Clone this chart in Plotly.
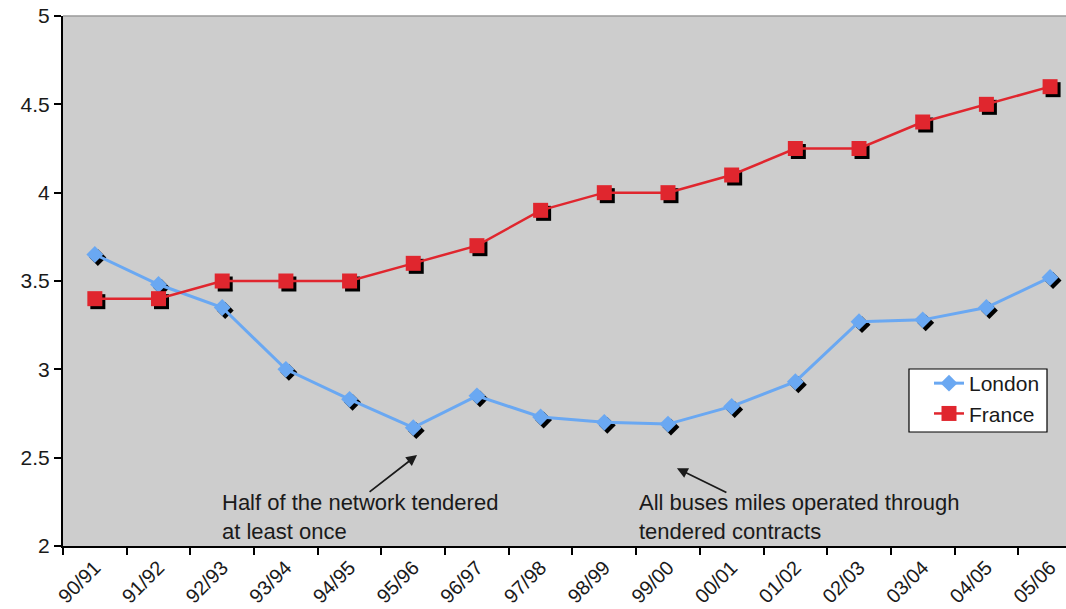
import plotly.graph_objects as go

seasons = ["90/91", "91/92", "92/93", "93/94", "94/95", "95/96", "96/97", "97/98",
           "98/99", "99/00", "00/01", "01/02", "02/03", "03/04", "04/05", "05/06"]
london = [3.65, 3.48, 3.35, 3.00, 2.83, 2.67, 2.85, 2.73, 2.70, 2.69, 2.79, 2.93,
          3.27, 3.28, 3.35, 3.52]
france = [3.40, 3.40, 3.50, 3.50, 3.50, 3.60, 3.70, 3.90, 4.00, 4.00, 4.10, 4.25,
          4.25, 4.40, 4.50, 4.60]

BLUE = "#6AA8F2"
RED = "#E0262E"
FONT = "Liberation Sans, Arial, sans-serif"

# plot area geometry (px)
L, T, B = 63, 16, 63
W, H = 1066 - L, 609 - T - B
x_range = [-0.5, 15.25]
y_range = [2, 5]
dx = 3 * (x_range[1] - x_range[0]) / W   # shadow offset: 3 px right
dy = 3 * (y_range[1] - y_range[0]) / H   # shadow offset: 3 px down

fig = go.Figure()

# drop shadows under the markers (drawn on a shifted hidden axis pair)
for vals, sym, size in [(london, "diamond", 13), (france, "square", 15)]:
    fig.add_trace(go.Scatter(
        x=seasons, y=vals, mode="markers", showlegend=False, hoverinfo="skip",
        marker=dict(symbol=sym, size=size, color="black", line=dict(width=0)),
        xaxis="x", yaxis="y"))

fig.add_trace(go.Scatter(
    x=seasons, y=london, name="London", mode="lines+markers",
    line=dict(color=BLUE, width=3),
    marker=dict(symbol="diamond", size=13, color=BLUE, line=dict(width=0)),
    xaxis="x2", yaxis="y2"))
fig.add_trace(go.Scatter(
    x=seasons, y=france, name="France", mode="lines+markers",
    line=dict(color=RED, width=2.5),
    marker=dict(symbol="square", size=15, color=RED, line=dict(width=0)),
    xaxis="x2", yaxis="y2"))

fig.update_layout(
    width=1066, height=609,
    margin=dict(l=L, r=0, t=T, b=B, pad=0),
    paper_bgcolor="white",
    plot_bgcolor="#CDCDCD",
    font=dict(family=FONT, size=21, color="#1a1a1a"),
    xaxis=dict(type="category", range=[x_range[0] - dx, x_range[1] - dx],
               visible=False, fixedrange=True),
    yaxis=dict(range=[y_range[0] + dy, y_range[1] + dy], visible=False,
               fixedrange=True),
    xaxis2=dict(type="category", overlaying="x", range=x_range,
                tickson="boundaries", ticks="outside", ticklen=7,
                tickcolor="black", tickwidth=1.5, tickangle=-45,
                showline=True, linecolor="black", linewidth=2,
                showgrid=False, zeroline=False,
                tickfont=dict(size=20, color="#1a1a1a")),
    yaxis2=dict(overlaying="y", range=y_range, tickvals=[2, 2.5, 3, 3.5, 4, 4.5, 5],
                ticktext=["2", "2.5", "3", "3.5", "4", "4.5", "5"],
                ticks="outside", ticklen=7, tickcolor="black", tickwidth=1.5,
                showline=True, linecolor="black", linewidth=2,
                showgrid=False, zeroline=False,
                tickfont=dict(size=21, color="#1a1a1a")),
    legend=dict(x=(929 - L) / W, y=(T + H - 363) / H, xanchor="left", yanchor="top",
                bgcolor="rgba(0,0,0,0)", borderwidth=0,
                font=dict(size=21, color="#1a1a1a"), tracegroupgap=0,
                itemwidth=30),
    showlegend=True,
)

# top border of the plot area
fig.add_shape(type="line", xref="paper", yref="paper", x0=0, x1=1, y0=1, y1=1,
              line=dict(color="#9a9a9a", width=1.5))
# legend frame
fig.add_shape(type="rect", xref="paper", yref="paper",
              x0=(909 - L) / W, x1=(1047 - L) / W,
              y0=(T + H - 432) / H, y1=(T + H - 369) / H,
              fillcolor="white", line=dict(color="black", width=1.2), layer="above")

ann_font = dict(size=22, color="#1a1a1a", family=FONT)
fig.add_annotation(xref="x2", yref="y2", x=1.965, y=2.165, xanchor="left",
                   yanchor="middle", align="left", showarrow=False,
                   text="Half of the network tendered<br>at least once", font=ann_font)
fig.add_annotation(xref="x2", yref="y2", x=8.51, y=2.165, xanchor="left",
                   yanchor="middle", align="left", showarrow=False,
                   text="All buses miles operated through<br>tendered contracts",
                   font=ann_font)
fig.add_annotation(xref="x2", yref="y2", x=5.06, y=2.515, text="", showarrow=True,
                   ax=-49, ay=38, arrowhead=2, arrowsize=1.2, arrowwidth=1.8,
                   arrowcolor="#1a1a1a")
fig.add_annotation(xref="x2", yref="y2", x=9.14, y=2.44, text="", showarrow=True,
                   ax=51, ay=25, arrowhead=2, arrowsize=1.2, arrowwidth=1.8,
                   arrowcolor="#1a1a1a")

fig.write_html("out.html")
